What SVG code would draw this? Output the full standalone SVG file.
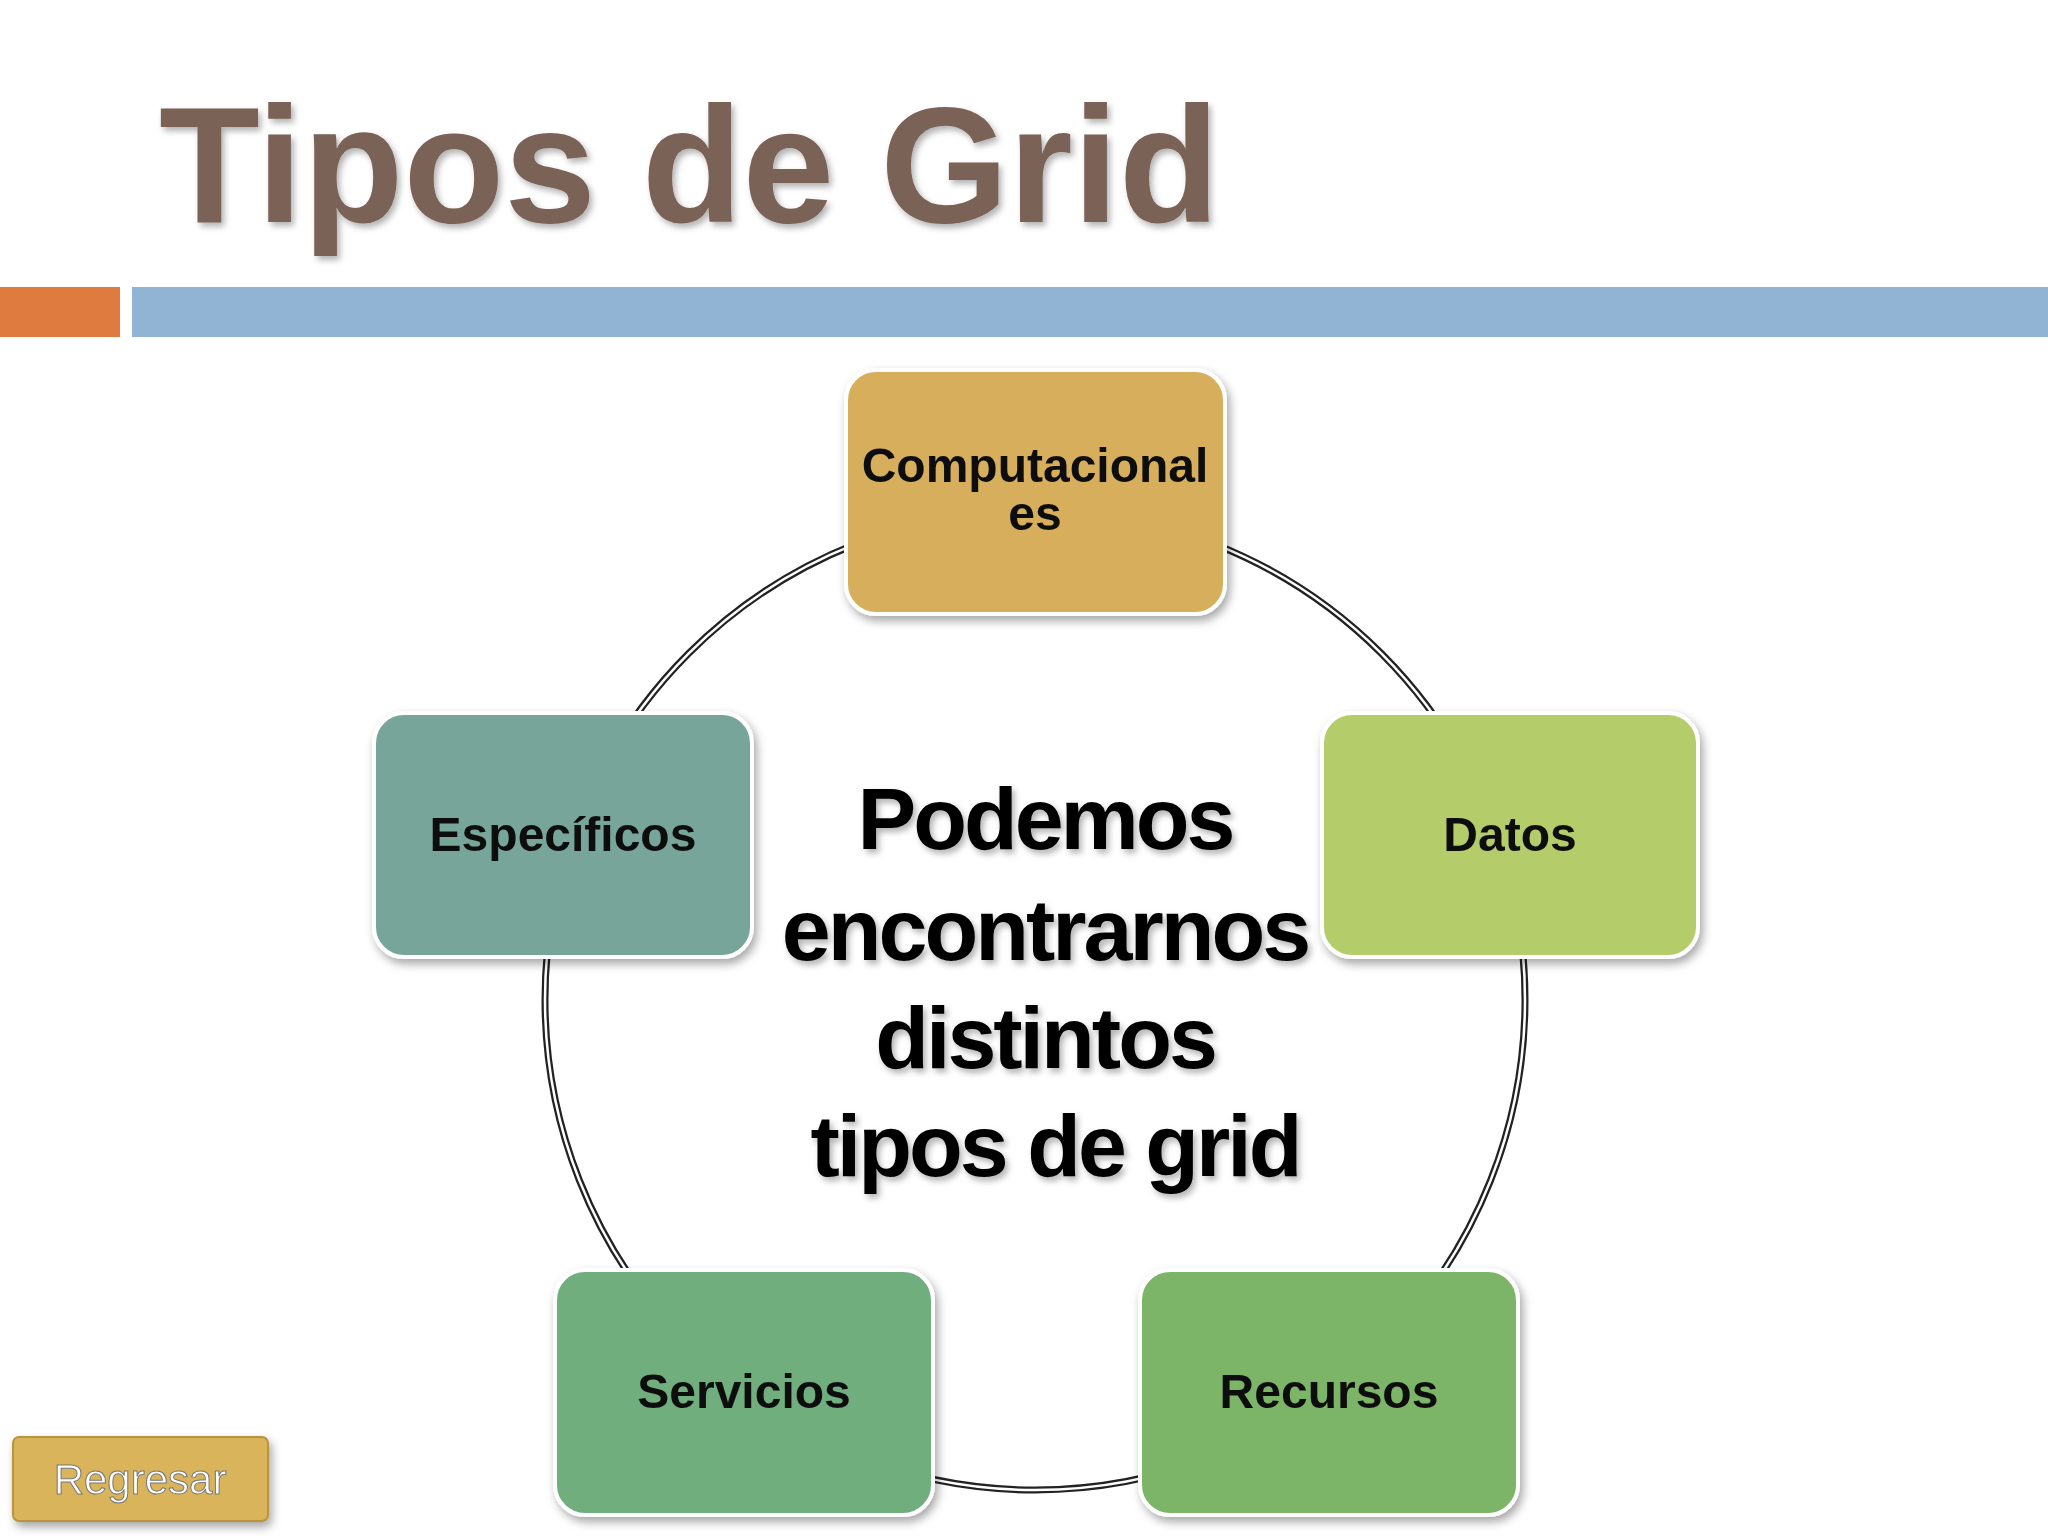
<svg xmlns="http://www.w3.org/2000/svg" width="2048" height="1536" viewBox="0 0 2048 1536">
<style>
.box{stroke:#ffffff;stroke-width:4}
.lbl{font-family:"Liberation Sans",Arial,sans-serif;font-weight:bold;font-size:48px;fill:#111;text-anchor:middle}
.ctr{font-family:"Liberation Sans",Arial,sans-serif;font-weight:bold;font-size:88px;fill:#000;text-anchor:middle;letter-spacing:-3px}
</style>
<defs>
<filter id="sh" x="-20%" y="-20%" width="140%" height="140%"><feDropShadow dx="3" dy="5" stdDeviation="5" flood-color="#000" flood-opacity="0.35"/></filter>
<filter id="ts" x="-10%" y="-10%" width="120%" height="130%"><feDropShadow dx="3" dy="4" stdDeviation="3" flood-color="#000" flood-opacity="0.3"/></filter>
</defs>
<rect width="2048" height="1536" fill="#fff"/>
<text x="159" y="222" font-family="Liberation Sans,Arial,sans-serif" font-weight="bold" font-size="165" fill="#7a6256" filter="url(#ts)">Tipos de Grid</text>
<rect x="0" y="287" width="120" height="50" fill="#e07b40"/>
<rect x="132" y="287" width="1916" height="50" fill="#92b4d4"/>
<g id="connectors">
<circle cx="1035" cy="1000" r="490" fill="none" stroke="#222" stroke-width="7"/>
<circle cx="1035" cy="1000" r="490" fill="none" stroke="#fff" stroke-width="2.5"/>
</g>
<g id="n1" filter="url(#sh)"><rect class="box" x="846" y="370" width="379" height="244" rx="30" fill="#d6ae5c"/><text class="lbl" x="1035" y="482" font-size="44">Computacional</text><text class="lbl" x="1035" y="530" font-size="44">es</text></g>
<g id="n2" filter="url(#sh)"><rect class="box" x="1322" y="713" width="376" height="244" rx="30" fill="#b5cc6a"/><text class="lbl" x="1510" y="851">Datos</text></g>
<g id="n3" filter="url(#sh)"><rect class="box" x="1140" y="1270" width="378" height="245" rx="30" fill="#7db568"/><text class="lbl" x="1329" y="1408">Recursos</text></g>
<g id="n4" filter="url(#sh)"><rect class="box" x="555" y="1270" width="378" height="245" rx="30" fill="#6fae7e"/><text class="lbl" x="744" y="1408">Servicios</text></g>
<g id="n5" filter="url(#sh)"><rect class="box" x="374" y="713" width="378" height="244" rx="30" fill="#78a59a"/><text class="lbl" x="563" y="851">Específicos</text></g>
<g id="center" filter="url(#ts)">
<text class="ctr" x="1045" y="849">Podemos</text>
<text class="ctr" x="1045" y="960">encontrarnos</text>
<text class="ctr" x="1045" y="1068">distintos</text>
<text class="ctr" x="1055" y="1176">tipos de grid</text>
</g>
<g id="regresar" filter="url(#sh)"><rect x="13" y="1437" width="255" height="84" rx="6" fill="#d9b45a" stroke="#b8953e" stroke-width="2"/><text x="140" y="1494" font-family="Liberation Sans,Arial,sans-serif" font-size="42" fill="#fff" text-anchor="middle" stroke="#777" stroke-width="1">Regresar</text></g>
</svg>
